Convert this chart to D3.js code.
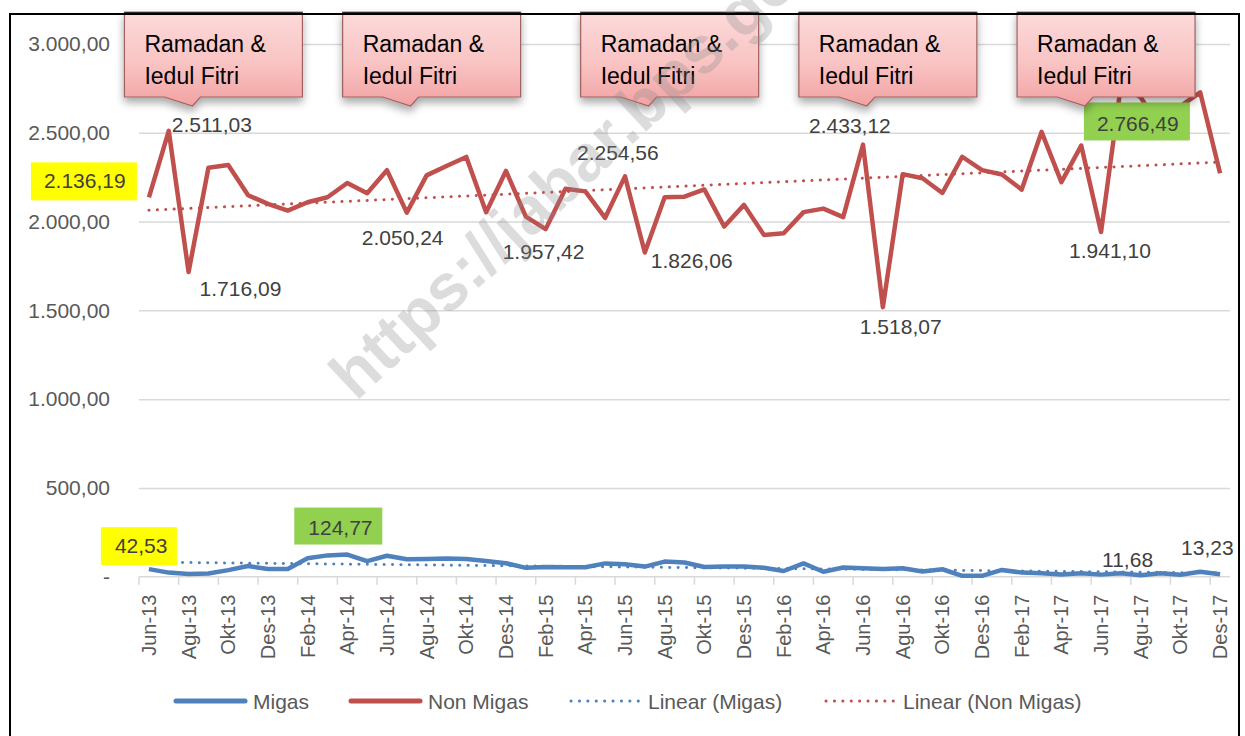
<!DOCTYPE html>
<html>
<head>
<meta charset="utf-8">
<script src="https://cdn.jsdelivr.net/npm/d3@7"></script>
<style>
  body { margin: 0; background: #fff; }
  svg { display: block; font-family: "Liberation Sans", Arial, sans-serif; }
</style>
</head>
<body>
<svg id="chart" width="1245" height="736"></svg>
<script>
// Months (Indonesian abbreviations)
const months = [
  "Jun-13","Jul-13","Agu-13","Sep-13","Okt-13","Nov-13","Des-13",
  "Jan-14","Feb-14","Mar-14","Apr-14","Mei-14","Jun-14","Jul-14","Agu-14","Sep-14","Okt-14","Nov-14","Des-14",
  "Jan-15","Feb-15","Mar-15","Apr-15","Mei-15","Jun-15","Jul-15","Agu-15","Sep-15","Okt-15","Nov-15","Des-15",
  "Jan-16","Feb-16","Mar-16","Apr-16","Mei-16","Jun-16","Jul-16","Agu-16","Sep-16","Okt-16","Nov-16","Des-16",
  "Jan-17","Feb-17","Mar-17","Apr-17","Mei-17","Jun-17","Jul-17","Agu-17","Sep-17","Okt-17","Nov-17","Des-17"
];

// Series values
const migas = [
  42.53, 23, 15, 18, 37, 60, 43,
  43, 104, 120, 124.77, 88, 118, 98, 100, 103, 100, 89, 76,
  50, 55, 53, 53, 75, 70, 57, 85, 80, 55, 57, 57,
  50, 32, 75, 28, 52, 48, 44, 48, 29, 42, 5, 5,
  38, 23, 19, 13, 19, 11.68, 19, 8, 19, 11, 28, 13.23
];
const nonMigas = [
  2136.19, 2511.03, 1716.09, 2303, 2318, 2148, 2100,
  2062, 2109, 2137, 2217, 2160, 2289, 2050.24, 2260, 2313, 2364, 2053, 2285,
  2028, 1957.42, 2185, 2170, 2021, 2254.56, 1826.06, 2137, 2140, 2181, 1972, 2094,
  1925, 1934, 2053, 2073, 2025, 2433.12, 1518.07, 2267, 2244, 2161, 2365, 2290,
  2265, 2180, 2505, 2222, 2428, 1941.10, 2766.49, 2700, 2520, 2650, 2727, 2272
];

// Axis ticks
const yTicks = [0, 500, 1000, 1500, 2000, 2500, 3000];
const xTickLabels = months.filter((d, i) => i % 2 === 0);

// Annotations
const ramadanMonths = ["Sep-13", "Agu-14", "Agu-15", "Jul-16", "Jun-17"];
const ramadanText = ["Ramadan &", "Iedul Fitri"];
const nonMigasLabels = ["Jul-13", "Agu-13", "Jul-14", "Feb-15", "Jun-15", "Jul-15", "Jun-16", "Jul-16", "Jun-17"];
const migasLabels = ["Jun-17", "Des-17"];
const highlights = [
  { series: "nonMigas", month: "Jun-13", color: "#FFFF00" },
  { series: "nonMigas", month: "Jul-17", color: "#92D050" },
  { series: "migas", month: "Jun-13", color: "#FFFF00" },
  { series: "migas", month: "Apr-14", color: "#92D050" }
];

const legendItems = [
  { name: "Migas", color: "#4F81BD", dotted: false },
  { name: "Non Migas", color: "#C0504D", dotted: false },
  { name: "Linear (Migas)", color: "#4F81BD", dotted: true },
  { name: "Linear (Non Migas)", color: "#C0504D", dotted: true }
];

// Number format 1.234,56
const locale = d3.formatLocale({ decimal: ",", thousands: ".", grouping: [3], currency: ["", ""] });
const fmt = locale.format(",.2f");

const svg = d3.select("#chart");

// Scales
const x = d3.scaleBand().domain(months).range([139, 1230]);
const y = d3.scaleLinear().domain([0, 3000]).range([576.7, 44]);
const cx = m => x(m) + x.bandwidth() / 2;

// Background
svg.append("rect").attr("width", 1245).attr("height", 736).attr("fill", "#fff");

// Defs: gradient + shadow
const defs = svg.append("defs");
const grad = defs.append("linearGradient").attr("id", "pink").attr("x1", 0).attr("y1", 0).attr("x2", 0).attr("y2", 1);
grad.append("stop").attr("offset", "0%").attr("stop-color", "#FCDADA");
grad.append("stop").attr("offset", "55%").attr("stop-color", "#F9C3C3");
grad.append("stop").attr("offset", "100%").attr("stop-color", "#F2A2A2");
const shadow = defs.append("filter").attr("id", "shadow").attr("x", "-10%").attr("y", "-10%").attr("width", "130%").attr("height", "150%");
shadow.append("feGaussianBlur").attr("in", "SourceAlpha").attr("stdDeviation", 4);
shadow.append("feOffset").attr("dx", 0).attr("dy", 5).attr("result", "b");
shadow.append("feComponentTransfer").append("feFuncA").attr("type", "linear").attr("slope", 0.35);
const merge = shadow.append("feMerge");
merge.append("feMergeNode");
merge.append("feMergeNode").attr("in", "SourceGraphic");

// Gridlines
svg.append("g")
  .attr("transform", "translate(139,0)")
  .call(d3.axisLeft(y).tickValues(yTicks.filter(d => d > 0)).tickSize(-(1230 - 139)).tickFormat(""))
  .call(g => g.select(".domain").remove())
  .call(g => g.selectAll("line").attr("stroke", "#D9D9D9").attr("stroke-width", 1.5));

// Y axis labels
svg.append("g")
  .attr("transform", "translate(139,0)")
  .call(d3.axisLeft(y).tickValues(yTicks).tickSize(0).tickPadding(29).tickFormat(d => d === 0 ? "-" : fmt(d)))
  .call(g => g.select(".domain").remove())
  .call(g => g.selectAll("text").attr("font-size", 21).attr("fill", "#595959")
    .attr("font-family", "'Liberation Sans', Arial, sans-serif"));

// X axis line + ticks at category boundaries
const xAxisG = svg.append("g").attr("transform", "translate(0," + y(0) + ")");
xAxisG.append("line").attr("x1", 139).attr("x2", 1230).attr("stroke", "#D9D9D9").attr("stroke-width", 1.5);
xAxisG.selectAll(".tk").data(xTickLabels).enter().append("line")
  .attr("x1", d => x(d)).attr("x2", d => x(d))
  .attr("y1", 0).attr("y2", 8)
  .attr("stroke", "#D9D9D9").attr("stroke-width", 1.5);

// X labels
svg.append("g")
  .attr("transform", "translate(0," + y(0) + ")")
  .call(d3.axisBottom(x).tickValues(xTickLabels).tickSize(0))
  .call(g => g.select(".domain").remove())
  .call(g => g.selectAll("text")
    .attr("transform", "rotate(-90)")
    .attr("x", -18).attr("y", 0).attr("dy", "0.35em")
    .attr("text-anchor", "end")
    .attr("font-size", 20).attr("fill", "#595959")
    .attr("font-family", "'Liberation Sans', Arial, sans-serif"));

// Linear trend (least squares over month index)
function trend(vals) {
  const n = vals.length;
  const mx = d3.mean(vals, (d, i) => i), my = d3.mean(vals);
  let sxy = 0, sxx = 0;
  vals.forEach((v, i) => { sxy += (i - mx) * (v - my); sxx += (i - mx) * (i - mx); });
  const b = sxy / sxx, a = my - b * mx;
  return [[0, a], [n - 1, a + b * (n - 1)]];
}

const line = d3.line().x((d, i) => cx(months[i])).y(d => y(d));

[[migas, "#4F81BD"], [nonMigas, "#C0504D"]].forEach(([vals, color]) => {
  const t = trend(vals);
  svg.append("line")
    .attr("x1", cx(months[t[0][0]])).attr("y1", y(t[0][1]))
    .attr("x2", cx(months[t[1][0]])).attr("y2", y(t[1][1]))
    .attr("stroke", color).attr("stroke-width", 3)
    .attr("stroke-linecap", "round").attr("stroke-dasharray", "0.1 8.3");
});

svg.append("path").datum(migas).attr("d", line)
  .attr("fill", "none").attr("stroke", "#4F81BD").attr("stroke-width", 4.5).attr("stroke-linejoin", "round");
svg.append("path").datum(nonMigas).attr("d", line)
  .attr("fill", "none").attr("stroke", "#C0504D").attr("stroke-width", 4.5).attr("stroke-linejoin", "round");

// Data labels (offsets from the point)
const labelOffset = {
  "nonMigas:Jul-13": [3, 1], "nonMigas:Agu-13": [11, 24], "nonMigas:Jul-14": [-45, 32],
  "nonMigas:Feb-15": [-43, 30], "nonMigas:Jun-15": [-48, -16], "nonMigas:Jul-15": [6, 16],
  "nonMigas:Jun-16": [-54, -12], "nonMigas:Jul-16": [-23, 27], "nonMigas:Jun-17": [-32, 26],
  "migas:Jun-17": [1, -8], "migas:Des-17": [-39, -19]
};
const seriesVals = { migas, nonMigas };

// Highlighted labels (boxes)
const hlLayout = {
  "nonMigas:Jun-13": { bx: -118, by: -35, bw: 106, bh: 38, tx: -105, ty: -9 },
  "nonMigas:Jul-17": { bx: -37, by: 17, bw: 106, bh: 38, tx: -24, ty: 46 },
  "migas:Jun-13": { bx: -48, by: -42, bw: 76, bh: 38, tx: -34, ty: -16 },
  "migas:Apr-14": { bx: -53, by: -47, bw: 88, bh: 37, tx: -39, ty: -20 }
};

const labelG = svg.append("g").attr("font-size", 21).attr("fill", "#404040");
[["nonMigas", nonMigasLabels], ["migas", migasLabels]].forEach(([s, list]) => {
  list.forEach(m => {
    const v = seriesVals[s][months.indexOf(m)];
    const o = labelOffset[s + ":" + m];
    labelG.append("text").attr("x", cx(m) + o[0]).attr("y", y(v) + o[1]).text(fmt(v));
  });
});

// Highlight boxes
highlights.forEach(h => {
  const v = seriesVals[h.series][months.indexOf(h.month)];
  const L = hlLayout[h.series + ":" + h.month];
  const px = cx(h.month), py = y(v);
  svg.append("rect").attr("x", px + L.bx).attr("y", py + L.by).attr("width", L.bw).attr("height", L.bh).attr("fill", h.color);
  svg.append("text").attr("x", px + L.tx).attr("y", py + L.ty)
    .attr("font-size", 21).attr("fill", "#404040").text(fmt(v));
});

// Ramadan callouts
const boxW = 178, boxTop = 12, boxBot = 97;
ramadanMonths.forEach(m => {
  const l = cx(m) + 5 - boxW / 2, r = l + boxW;
  const g = svg.append("g");
  g.append("path")
    .attr("d", `M${l},${boxTop}H${r}V${boxBot}H${l + 76}L${l + 68},${boxBot + 9}L${l + 40},${boxBot}H${l}Z`)
    .attr("fill", "url(#pink)").attr("stroke", "#A0605E").attr("stroke-width", 1.2)
    .attr("filter", "url(#shadow)");
  g.append("line").attr("x1", l).attr("x2", r).attr("y1", boxTop + 1).attr("y2", boxTop + 1)
    .attr("stroke", "#3a2a2a").attr("stroke-width", 2);
  ramadanText.forEach((t, k) => {
    g.append("text").attr("x", l + 20).attr("y", 52 + k * 32)
      .attr("font-size", 23).attr("fill", "#000").text(t);
  });
});

// Legend
const legendX = [176, 351, 571, 826];
legendItems.forEach((d, i) => {
  const g = svg.append("g").attr("transform", `translate(${legendX[i]},701)`);
  g.append("line").attr("x1", 0).attr("x2", 69)
    .attr("stroke", d.color).attr("stroke-linecap", "round")
    .attr("stroke-width", d.dotted ? 3 : 5)
    .attr("stroke-dasharray", d.dotted ? "0.1 8.3" : null);
  g.append("text").attr("x", 77).attr("y", 8).attr("font-size", 21).attr("fill", "#595959").text(d.name);
});

// Watermark
svg.append("text")
  .attr("transform", "translate(356,402) rotate(-43)")
  .attr("font-size", 66).attr("font-weight", "bold")
  .attr("fill", "#8c8c8c").attr("fill-opacity", 0.3)
  .text("https://jabar.bps.go.id");

// Chart border
svg.append("path").attr("d", "M10,736V14H1239V736")
  .attr("fill", "none").attr("stroke", "#000").attr("stroke-width", 2);
</script>
</body>
</html>
